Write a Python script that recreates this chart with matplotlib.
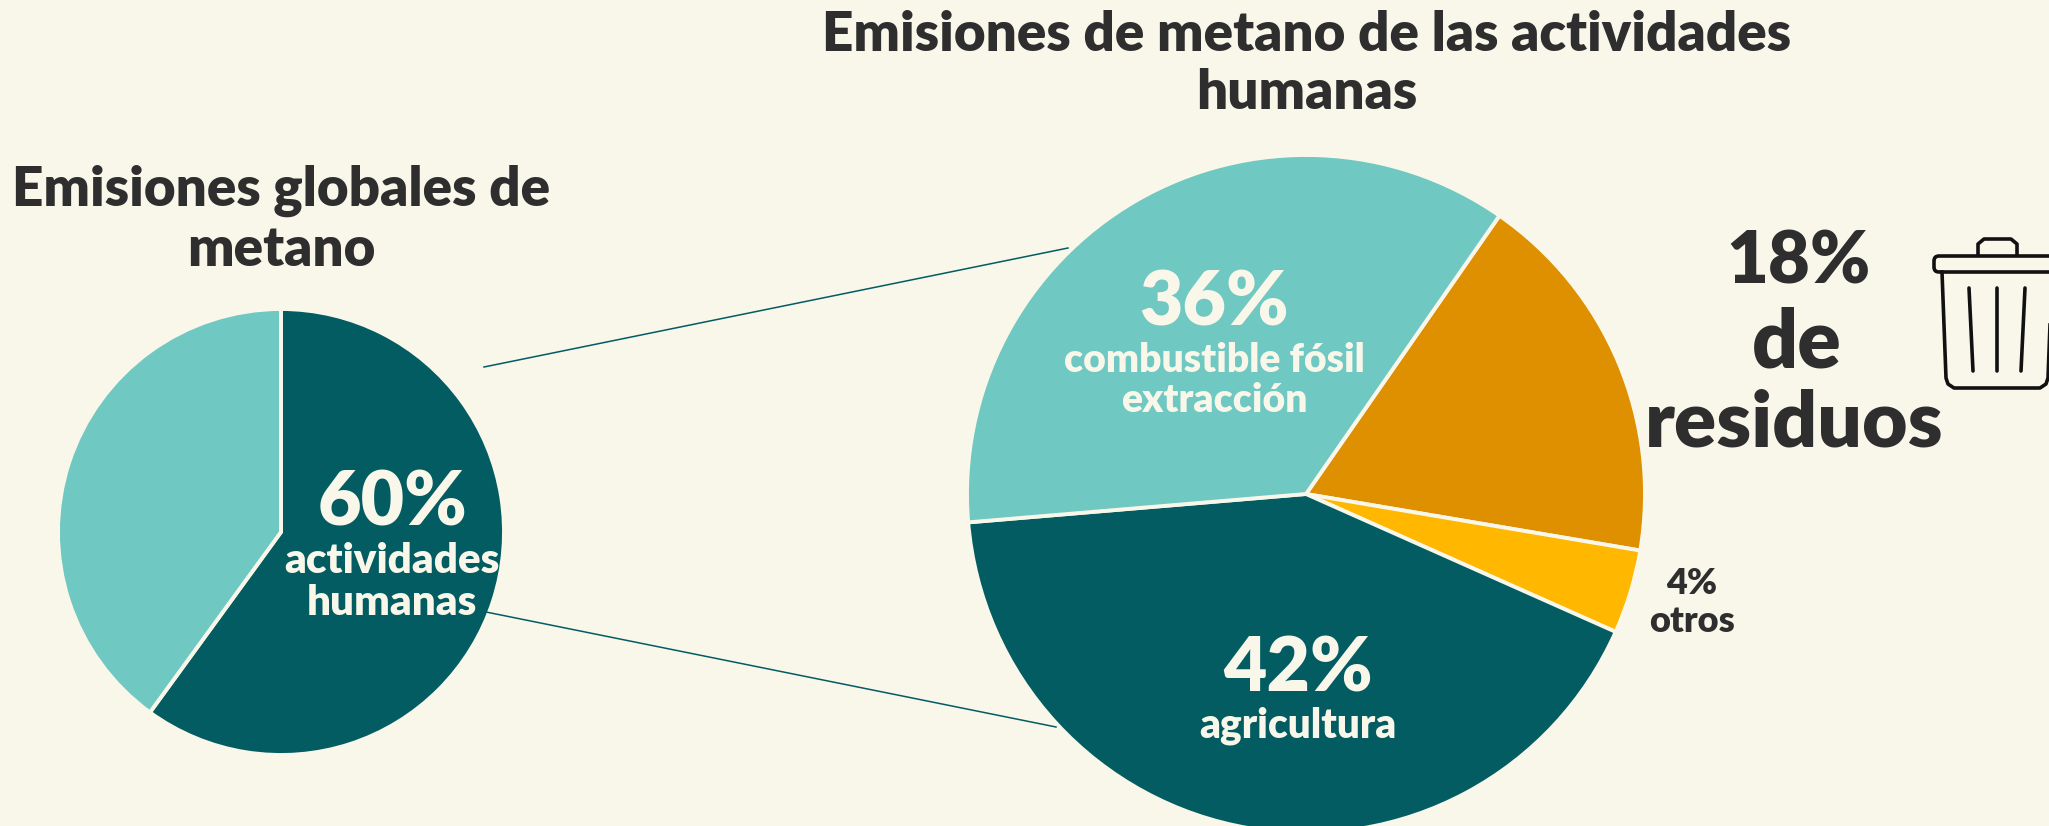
import matplotlib
matplotlib.use("Agg")
import matplotlib.pyplot as plt
from matplotlib.patches import FancyBboxPatch

W, H = 2049, 826
BG = "#F9F7EA"
DARK = "#025C62"
LIGHT = "#6FC8C1"
ORANGE = "#DF9000"
YELLOW = "#FFB700"
INK = "#2E2E2E"

global_values = [60, 40]
global_colors = [DARK, LIGHT]

human_values = [18, 4, 42, 36]
human_colors = [ORANGE, YELLOW, DARK, LIGHT]

plt.rcParams['font.family'] = ['Lato', 'DejaVu Sans']


def Y(py):
    # picture pixels count from the top
    return H - py


def label(ax, px, py, s, size, color=INK, weight='heavy'):
    ax.text(px, Y(py), s, fontsize=size, color=color, weight=weight,
            ha='center', va='center')


fig = plt.figure(figsize=(W / 100, H / 100), dpi=100, facecolor=BG)
ax = fig.add_axes([0, 0, 1, 1])

wedge = dict(edgecolor=BG, linewidth=2.8)
ax.pie(global_values, colors=global_colors, startangle=90, counterclock=False,
       center=(281, Y(532)), radius=223, wedgeprops=wedge, frame=False)
ax.pie(human_values, colors=human_colors, startangle=55.2, counterclock=False,
       center=(1306, Y(494)), radius=339, wedgeprops=wedge, frame=False)
ax.set_xlim(0, W)
ax.set_ylim(0, H)
ax.set_aspect('auto')
ax.axis('off')

# connectors between the two pies
ax.plot([484, 1068], [Y(367), Y(248)], color=DARK, lw=1.1)
ax.plot([486, 1056], [Y(612), Y(727)], color=DARK, lw=1.1)

# titles
label(ax, 1307, 35, "Emisiones de metano de las actividades", 39.4)
label(ax, 1307, 93, "humanas", 39.4)
label(ax, 281, 191, "Emisiones globales de", 39.4)
label(ax, 281, 250, "metano", 39.4)

# labels on the left pie
label(ax, 392, 504, "60%", 54, BG)
label(ax, 392, 561, "actividades", 30.3, BG)
label(ax, 392, 603, "humanas", 30.3, BG)

# labels on the right pie
label(ax, 1214, 303, "36%", 54, BG)
label(ax, 1214, 360, "combustible fósil", 28.2, BG)
label(ax, 1214, 400, "extracción", 28.2, BG)
label(ax, 1298, 669, "42%", 54, BG)
label(ax, 1298, 726, "agricultura", 29.2, BG)
label(ax, 1692, 584, "4%", 26)
label(ax, 1692, 622, "otros", 26)

label(ax, 1799, 263, "18%", 52)
label(ax, 1797, 344, "de", 58)
label(ax, 1794, 424, "residuos", 56.5)

# trash can icon, runs off the right edge like the original
ICON = "#111111"
ax.add_patch(FancyBboxPatch((1934, Y(272)), 126, 16, boxstyle="round,pad=0,rounding_size=5",
                            fill=False, edgecolor=ICON, lw=2.6))
ax.plot([1978, 1978, 1984, 2011, 2017, 2017],
        [Y(254), Y(244), Y(239), Y(239), Y(244), Y(254)], color=ICON, lw=2.6)
ax.plot([1942, 1946, 1948, 1954, 2040, 2046, 2048, 2052],
        [Y(272), Y(378), Y(384), Y(388), Y(388), Y(384), Y(378), Y(272)], color=ICON, lw=2.6)
ax.plot([1969, 1973], [Y(288), Y(371)], color=ICON, lw=2.6, solid_capstyle='round')
ax.plot([1997, 1997], [Y(288), Y(371)], color=ICON, lw=2.6, solid_capstyle='round')
ax.plot([2025, 2021], [Y(288), Y(371)], color=ICON, lw=2.6, solid_capstyle='round')

fig.savefig("out.png", dpi=100, facecolor=BG)
